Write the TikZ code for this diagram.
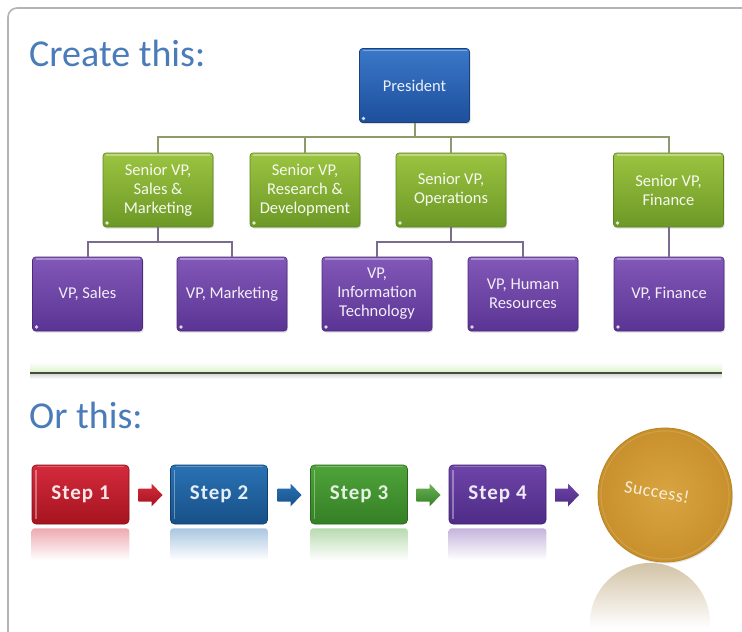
\documentclass[tikz,border=0pt]{standalone}
\usepackage{fontspec}
\setmainfont{Carlito}
\newfontfamily\stepfont[LetterSpace=5]{Carlito}
\newfontfamily\succfont[LetterSpace=3]{Carlito}
\usetikzlibrary{calc,shadows}
\definecolor{titleblue}{HTML}{4A7CB9}
\definecolor{frameg}{HTML}{B4B4B4}
\definecolor{presT}{HTML}{3A78C8}
\definecolor{presB}{HTML}{1D4F9C}
\definecolor{presD}{HTML}{1B3F7A}
\definecolor{svpT}{HTML}{9CC441}
\definecolor{svpB}{HTML}{6C9826}
\definecolor{svpD}{HTML}{5E8420}
\definecolor{vpT}{HTML}{8258B8}
\definecolor{vpB}{HTML}{5A3494}
\definecolor{vpD}{HTML}{4A2A7C}
\definecolor{connA}{HTML}{8D9A6C}
\definecolor{connB}{HTML}{7A6C8C}
\definecolor{sepc}{HTML}{3D4F3A}
\definecolor{redT}{HTML}{D42A3C}
\definecolor{redB}{HTML}{A5141F}
\definecolor{bluT}{HTML}{2A72B4}
\definecolor{bluB}{HTML}{175088}
\definecolor{grnT}{HTML}{4FA43A}
\definecolor{grnB}{HTML}{357F25}
\definecolor{purT}{HTML}{6E44A8}
\definecolor{purB}{HTML}{4E2C86}
\definecolor{goldI}{HTML}{D9A540}
\definecolor{goldO}{HTML}{C8902C}
\definecolor{goldD}{HTML}{B88420}
\definecolor{reflg}{HTML}{D2C3A6}
\definecolor{glowg}{HTML}{DDF2CC}
\tikzset{
  orgbox/.style={rounded corners=3pt, minimum width=110pt, minimum height=74pt,
    inner sep=1pt, align=center, line width=0.6pt,
    font=\fontsize{16.5}{19}\selectfont,
    drop shadow={opacity=0.25, shadow xshift=1pt, shadow yshift=-1.5pt},
    path picture={
      \draw[white, opacity=0.35, line width=1.5pt]
        ([xshift=3pt,yshift=-2pt]path picture bounding box.north west) --
        ([xshift=-3pt,yshift=-2pt]path picture bounding box.north east);
      \fill[white, opacity=0.8]
        ([xshift=4pt,yshift=4pt]path picture bounding box.south west) circle (1.8pt);}},
  presbox/.style={orgbox, top color=presT, bottom color=presB, draw=presD, text=white!90!presT},
  svpbox/.style={orgbox, top color=svpT, bottom color=svpB, draw=svpD, text=white!92!svpT},
  vpbox/.style={orgbox, top color=vpT, bottom color=vpB, draw=vpD, text=white!90!vpT},
  linkA/.style={connA, line width=2pt},
  linkB/.style={connB, line width=2pt},
  titletext/.style={font=\fontsize{38}{44}\selectfont, text=titleblue, inner sep=0, anchor=base west},
  stepbox/.style={rounded corners=4pt, minimum width=97pt, minimum height=59pt, inner sep=0,
    line width=0.6pt, font=\stepfont\bfseries\fontsize{21}{24}\selectfont,
    path picture={
      \draw[white, opacity=0.35, line width=1.5pt]
        ([xshift=4pt,yshift=-5pt]path picture bounding box.north west) --
        ([xshift=4pt,yshift=5pt]path picture bounding box.south west);
      \draw[white, opacity=0.25, line width=1pt]
        ([xshift=5pt,yshift=-1.5pt]path picture bounding box.north west) --
        ([xshift=-5pt,yshift=-1.5pt]path picture bounding box.north east);}},
  pics/steparrow/.style 2 args={code={
    \shade[top color=#1, bottom color=#2]
      (-12,-6.5) -- (1,-6.5) -- (1,-11.5) -- (12,0) -- (1,11.5) -- (1,6.5) -- (-12,6.5) -- cycle;}}
}
\begin{document}
\begin{tikzpicture}[x=1pt,y=-1pt]
\useasboundingbox (0,0) rectangle (742,632);
\fill[white] (0,0) rectangle (742,632);
% frame
\draw[frameg, line width=1.6pt, rounded corners=9pt] (8,660) -- (8,8) -- (760,8);
% titles
\node[titletext] (t1) at (29,66) {Create this:};
\node[titletext] (t2) at (29,428) {Or this:};
% org chart
\node[presbox] (pres) at (414.5,85.5) {President};
\node[svpbox] (s1) at (158,190) {Senior VP,\\Sales \&\\Marketing};
\node[svpbox] (s2) at (305,190) {Senior VP,\\Research \&\\Development};
\node[svpbox] (s3) at (451,190) {Senior VP,\\Operations};
\node[svpbox] (s4) at (668.5,190) {Senior VP,\\Finance};
\node[vpbox] (v1) at (87.5,294) {VP, Sales};
\node[vpbox] (v2) at (232,294) {VP, Marketing};
\node[vpbox] (v3) at (377,294) {VP,\\Information\\Technology};
\node[vpbox] (v4) at (523,294) {VP, Human\\Resources};
\node[vpbox] (v5) at (669,294) {VP, Finance};
\coordinate (busA) at (0,137);
\coordinate (busB) at (0,242);
\draw[linkA] (pres.south) -- (pres.south |- busA);
\draw[linkA] (s1.north) -- (s1.north |- busA) -- (s4.north |- busA) -- (s4.north);
\draw[linkA] (s2.north) -- (s2.north |- busA);
\draw[linkA] (s3.north) -- (s3.north |- busA);
\draw[linkB] (s1.south) -- (s1.south |- busB);
\draw[linkB] (v1.north) -- (v1.north |- busB) -- (v2.north |- busB) -- (v2.north);
\draw[linkB] (s3.south) -- (s3.south |- busB);
\draw[linkB] (v3.north) -- (v3.north |- busB) -- (v4.north |- busB) -- (v4.north);
\draw[linkB] (s4.south) -- (s4.south |- v5.north);
% separator
\shade[top color=white, bottom color=glowg] (30,362) rectangle (722,372);
\shade[top color=black!15, bottom color=white] (30,374) rectangle (722,379);
\draw[sepc, line width=2pt] (30,373) -- (722,373);
% steps
\node[stepbox, top color=redT, bottom color=redB, draw=redB!80!black, text=white!88!redT] (st1) at (80.5,494.5) {Step 1};
\node[stepbox, top color=bluT, bottom color=bluB, draw=bluB!80!black, text=white!88!bluT] (st2) at (219,494.5) {Step 2};
\node[stepbox, top color=grnT, bottom color=grnB, draw=grnB!80!black, text=white!85!grnT] (st3) at (359,494.5) {Step 3};
\node[stepbox, top color=purT, bottom color=purB, draw=purB!80!black, text=white!88!purT] (st4) at (497.5,494.5) {Step 4};
% reflections
\shade[top color=redT!40!white, bottom color=white, rounded corners=3pt] ($(st1.south west)+(0,4)$) rectangle ($(st1.south east)+(0,36)$);
\shade[top color=bluT!40!white, bottom color=white, rounded corners=3pt] ($(st2.south west)+(0,4)$) rectangle ($(st2.south east)+(0,36)$);
\shade[top color=grnT!40!white, bottom color=white, rounded corners=3pt] ($(st3.south west)+(0,4)$) rectangle ($(st3.south east)+(0,36)$);
\shade[top color=purT!40!white, bottom color=white, rounded corners=3pt] ($(st4.south west)+(0,4)$) rectangle ($(st4.south east)+(0,36)$);
% arrows
\pic (ar1) at (150.5,495) {steparrow={redT}{redB}};
\pic (ar2) at (289.5,495) {steparrow={bluT}{bluB}};
\pic (ar3) at (428.5,495) {steparrow={grnT!85!white}{grnB}};
\pic (ar4) at (567,495) {steparrow={purT}{purB}};
% success
\begin{scope}
  \clip (650,623) circle (60pt);
  \shade[top color=reflg, bottom color=white] (585,563) rectangle (715,628);
  \fill[white] (585,627) rectangle (715,690);
\end{scope}
\node[circle, minimum size=134pt, inner sep=0, inner color=goldI, outer color=goldO,
      draw=goldD, line width=0.8pt,
      drop shadow={opacity=0.2, shadow xshift=1pt, shadow yshift=-1.5pt}] (succ) at (665,495) {};
\draw[white, opacity=0.12, line width=1.2pt] (succ.center) circle (64pt);
\node[rotate=-10, text=white!82!goldI, font=\succfont\fontsize{18}{22}\selectfont] (succtxt) at (657,492) {Success!};
\end{tikzpicture}
\end{document}
